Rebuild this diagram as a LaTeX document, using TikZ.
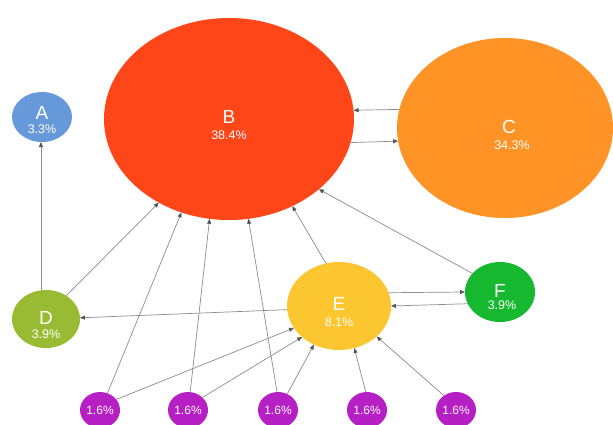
\documentclass[tikz,border=0pt]{standalone}
\usepackage{fontspec}
\setmainfont{Liberation Sans}
\usetikzlibrary{shapes.geometric,arrows.meta}
\definecolor{cA}{HTML}{6699D9}
\definecolor{cB}{HTML}{FF4619}
\definecolor{cC}{HTML}{FF9326}
\definecolor{cD}{HTML}{99BB33}
\definecolor{cE}{HTML}{FCC630}
\definecolor{cF}{HTML}{15B82E}
\definecolor{cP}{HTML}{B51FC4}
\definecolor{edge}{HTML}{8C8C8C}
\definecolor{tip}{HTML}{555555}
\tikzset{
  bubble/.style={ellipse, draw=none, inner sep=0pt, outer sep=0pt},
  letter/.style={anchor=base, text=white, inner sep=0pt, font=\fontsize{19}{19}\selectfont},
  pct/.style={anchor=base, text=white, inner sep=0pt, font=\fontsize{12.5}{13}\selectfont},
  link/.style={draw=edge, line width=0.7pt, -{Triangle[length=5pt,width=4pt,color=tip]}},
}
\begin{document}
\begin{tikzpicture}[x=1pt,y=-1pt]
\useasboundingbox[fill=white] (0,0) rectangle (613,424);
% main bubbles
\node[bubble, fill=cA, minimum width=60pt, minimum height=50pt] (A) at (42,117) {};
\node[bubble, fill=cB, minimum width=250pt, minimum height=202pt] (B) at (229,119) {};
\node[bubble, fill=cC, minimum width=216pt, minimum height=180pt] (C) at (505,128) {};
\node[bubble, fill=cD, minimum width=68pt, minimum height=58pt] (D) at (46,319) {};
\node[bubble, fill=cE, minimum width=104pt, minimum height=88pt] (E) at (339,306) {};
\node[bubble, fill=cF, minimum width=70pt, minimum height=60pt] (F) at (500,292) {};
% small bubbles
\foreach \n/\x in {p1/100,p2/188,p3/278,p4/367,p5/456}{
  \node[bubble, fill=cP, minimum width=40pt, minimum height=36pt] (\n) at (\x,410) {};
  \node[pct, font=\fontsize{12}{12}\selectfont] (\n t) at (\x,414) {1.6\%};
}
% labels
\node[letter] (Al) at (42,119) {A};
\node[pct] (Ap) at (42,133) {3.3\%};
\node[letter] (Bl) at (229,123) {B};
\node[pct] (Bp) at (229,139) {38.4\%};
\node[letter] (Cl) at (509,133) {C};
\node[pct] (Cp) at (512,149) {34.3\%};
\node[letter] (Dl) at (46,324) {D};
\node[pct] (Dp) at (46,338) {3.9\%};
\node[letter] (El) at (339,310) {E};
\node[pct] (Ep) at (339,326) {8.1\%};
\node[letter] (Fl) at (500,297) {F};
\node[pct] (Fp) at (502,309) {3.9\%};
% connectors
\draw[link] (D.100) -- (D.100 |- A.south);
\draw[link] (D.49) -- (B.230);
\draw[link] (E.184) -- (D.2);
\draw[link] (C.170) -- (B.4.5);
\draw[link] (B.349) -- (C.187);
\draw[link] (E.107) -- (B.306);
\draw[link] (F.146) -- (B.322);
\draw[link] (E.15) -- (F.180);
\draw[link] (F.200) -- (E.0);
\draw[link] (p1.66) -- (B.243);
\draw[link] (p1.33) -- (E.206);
\draw[link] (p2.83) -- (B.259);
\draw[link] (p2.41) -- (E.220);
\draw[link] (p3.93) -- (B.281);
\draw[link] (p3.60) -- (E.237);
\draw[link] (p4.94) -- (E.290);
\draw[link] (p5.130) -- (E.321);
\end{tikzpicture}
\end{document}
